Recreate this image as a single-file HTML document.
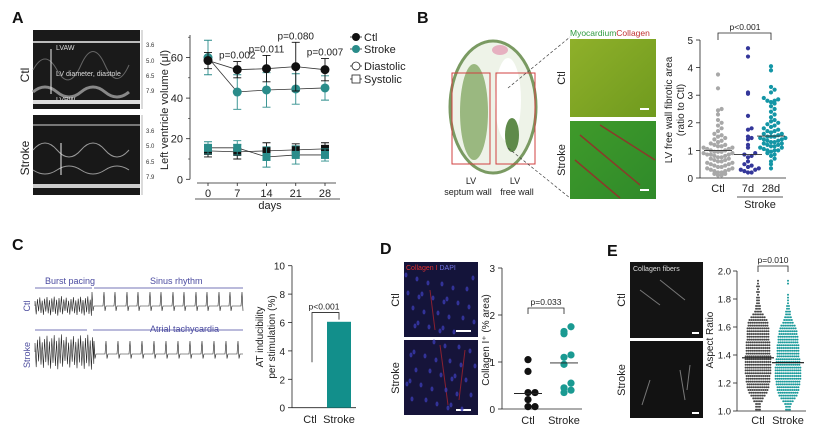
<!DOCTYPE html>
<html><head><meta charset="utf-8"><style>
html,body{margin:0;padding:0;background:#fff;width:830px;height:440px;overflow:hidden}
svg{display:block;font-family:"Liberation Sans",Arial,sans-serif}
</style></head><body>
<svg id="fig" width="830" height="440" viewBox="0 0 830 440" xmlns="http://www.w3.org/2000/svg">
<defs>
<linearGradient id="grnA" x1="0" y1="0" x2="1" y2="1"><stop offset="0" stop-color="#8fb02a"/><stop offset="1" stop-color="#6f9a1e"/></linearGradient>
<linearGradient id="grnB" x1="0" y1="0" x2="1" y2="1"><stop offset="0" stop-color="#3f9a2a"/><stop offset="1" stop-color="#2f8a2a"/></linearGradient>
</defs>
<g font-weight="bold" font-size="16" fill="#111">
<text x="12" y="23">A</text>
<text x="417" y="23">B</text>
<text x="12" y="250">C</text>
<text x="380" y="254">D</text>
<text x="607" y="256">E</text>
</g>

<g>
<rect x="33" y="30" width="107" height="79" fill="#1a1a1a"/>
<rect x="33" y="115" width="107" height="80" fill="#181818"/>
<path d="M33 42 H140" stroke="#bbb" stroke-width="2"/>
<path d="M33 92 q12 -10 24 0 t24 0 t24 0 t24 0" stroke="#888" stroke-width="3" fill="none"/>
<path d="M33 102 H140" stroke="#ddd" stroke-width="4"/>
<path d="M33 70 q12 -22 24 0 t24 -5 t24 0 t24 0" stroke="#666" stroke-width="1" fill="none"/>
<path d="M33 125 H140" stroke="#777" stroke-width="2"/>
<path d="M33 150 q12 -14 24 0 t24 0 t24 0 t24 0" stroke="#999" stroke-width="1" fill="none"/>
<path d="M33 170 q12 8 24 0 t24 0 t24 0 t24 0" stroke="#999" stroke-width="1" fill="none"/>
<path d="M33 186 H140" stroke="#ccc" stroke-width="4"/>
<path d="M51 49 V94 M61 143 V175" stroke="#eee" stroke-width="1"/>
<text x="56" y="50" font-size="7" fill="#ddd">LVAW</text>
<text x="56" y="76" font-size="7" fill="#ddd">LV diameter, diastole</text>
<text x="56" y="102" font-size="7" fill="#ddd">LVPW</text>
<g font-size="6" fill="#333">
<text x="146" y="47">3.6</text><text x="146" y="63">5.0</text><text x="146" y="78">6.5</text><text x="146" y="93">7.9</text>
<text x="146" y="133">3.6</text><text x="146" y="148">5.0</text><text x="146" y="164">6.5</text><text x="146" y="179">7.9</text>
</g>
<path d="M142 30 V109 M142 115 V195" stroke="#888" stroke-width="0.6"/>
<text transform="translate(29,75) rotate(-90)" font-size="12" text-anchor="middle" fill="#222">Ctl</text>
<text transform="translate(29,158) rotate(-90)" font-size="12" text-anchor="middle" fill="#222">Stroke</text>
</g>

<g id="chartA"></g>
<g id="chartB"></g>

<g>
<ellipse cx="493" cy="107" rx="43" ry="66" fill="#eef3e8" stroke="#7a9a62" stroke-width="3"/>
<ellipse cx="474" cy="112" rx="14" ry="48" fill="#9ab880"/>
<ellipse cx="508" cy="100" rx="13" ry="42" fill="#fff"/>
<ellipse cx="512" cy="135" rx="7" ry="17" fill="#5f8a4a"/>
<ellipse cx="500" cy="50" rx="8" ry="5" fill="#e6b0c0"/>
<rect x="452" y="73" width="38" height="91" fill="none" stroke="#d04040" stroke-width="1"/>
<rect x="496" y="73" width="39" height="91" fill="none" stroke="#d04040" stroke-width="1"/>
<path d="M508 88 L570 37 M508 148 L570 198" stroke="#444" stroke-dasharray="3,2" stroke-width="0.7"/>
<g font-size="9" fill="#222" text-anchor="middle">
<text x="471" y="184">LV</text><text x="468" y="195">septum wall</text>
<text x="515" y="184">LV</text><text x="517" y="195">free wall</text>
</g>
<text x="570" y="36" font-size="8.5"><tspan fill="#2f9a40">Myocardium</tspan><tspan fill="#c03030">Collagen</tspan></text>
<rect x="570" y="39" width="86" height="78" fill="url(#grnA)"/>
<rect x="570" y="121" width="86" height="78" fill="url(#grnB)"/>
<path d="M580 135 L640 185 M600 125 L655 160 M575 160 L620 198" stroke="#8a3a2a" stroke-width="1.5"/>
<path d="M640 109 h9 M640 190 h9" stroke="#fff" stroke-width="2"/>
<text transform="translate(565,78) rotate(-90)" font-size="11" text-anchor="middle" fill="#222">Ctl</text>
<text transform="translate(565,160) rotate(-90)" font-size="11" text-anchor="middle" fill="#222">Stroke</text>
</g>

<g id="traces">
<g font-size="9" fill="#4a4aa0">
<text x="45" y="284">Burst pacing</text>
<text x="150" y="284">Sinus rhythm</text>
<text x="150" y="332">Atrial tachycardia</text>
</g>
<path d="M35 288 H92 M94 288 H243 M35 330 H87 M93 330 H243" stroke="#4a4aa0" stroke-width="0.7"/>
<text transform="translate(30,306) rotate(-90)" font-size="9" text-anchor="middle" fill="#5050a0">Ctl</text>
<text transform="translate(30,355) rotate(-90)" font-size="9" text-anchor="middle" fill="#5050a0">Stroke</text>
</g>
<g id="chartC"></g>

<g id="dimg">
<rect x="404" y="262" width="74" height="75" fill="#14143a"/>
<rect x="404" y="340" width="74" height="75" fill="#16143a"/>
<path d="M430 290 l5 40 M440 345 l8 60 M465 350 l-6 50" stroke="#8a2030" stroke-width="1"/>
<text x="406" y="270" font-size="7"><tspan fill="#e03030">Collagen I</tspan><tspan fill="#7070e0"> DAPI</tspan></text>
<path d="M456 331 h15 M456 410 h15" stroke="#fff" stroke-width="2"/>
<text transform="translate(399,300) rotate(-90)" font-size="11" text-anchor="middle" fill="#222">Ctl</text>
<text transform="translate(399,378) rotate(-90)" font-size="11" text-anchor="middle" fill="#222">Stroke</text>
</g>
<g id="chartD"></g>

<g>
<rect x="630" y="262" width="73" height="76" fill="#141414"/>
<rect x="630" y="341" width="73" height="77" fill="#121212"/>
<text x="633" y="271" font-size="7" fill="#ddd">Collagen fibers</text>
<path d="M640 290 l20 15 M660 280 l25 20 M650 380 l-8 25 M680 370 l5 30 M690 365 l-3 25" stroke="#777" stroke-width="1"/>
<path d="M692 333 h7 M692 413 h7" stroke="#fff" stroke-width="2"/>
<text transform="translate(625,300) rotate(-90)" font-size="11" text-anchor="middle" fill="#222">Ctl</text>
<text transform="translate(625,380) rotate(-90)" font-size="11" text-anchor="middle" fill="#222">Stroke</text>
</g>
<g id="chartE"></g>
</svg>
<script>
const daysA = [0, 7, 14, 21, 28];
const ctlDia = [58.5, 54, 54.5, 55.5, 54];
const ctlDiaSD = [4, 4, 6.5, 12, 5.5];
const strDia = [60, 43, 44, 44.5, 45];
const strDiaSD = [8.5, 8.5, 8.5, 7.5, 6];
const ctlSys = [14, 13.5, 14, 14.5, 15];
const ctlSysSD = [3, 3.5, 4, 3, 3];
const strSys = [15.5, 15.5, 11, 12, 12];
const strSysSD = [3, 3.5, 5, 4.5, 3];
const pLabelsA = ["", "p=0.002", "p=0.011", "p=0.080", "p=0.007"];
const ticksA = [0, 20, 40, 60];

const groupsB = ["Ctl", "7d", "28d"];
const ctlB = [3.75,3.25,2.5,2.45,2.3,2.1,2.0,1.9,1.8,1.7,1.6,1.55,1.5,1.45,1.4,1.35,1.3,1.25,1.2,1.2,1.15,1.1,1.1,1.05,1.0,1.0,0.95,0.95,0.9,0.9,0.85,0.85,0.8,0.8,0.75,0.75,0.7,0.7,0.65,0.65,0.6,0.6,0.55,0.55,0.5,0.5,0.45,0.45,0.4,0.4,0.35,0.35,0.3,0.3,0.25,0.25,0.2,0.2,0.15,0.15,0.1,0.1,1.15,1.05,0.95,0.85];
const d7B = [4.7,4.4,3.1,3.05,2.25,1.8,1.75,1.5,1.45,1.4,1.2,1.1,0.9,0.85,0.8,0.75,0.6,0.5,0.45,0.4,0.3,0.3,0.25,0.2,0.2,0.35];
const d28B = [4.05,3.9,3.3,3.2,3.1,2.9,2.85,2.8,2.8,2.75,2.7,2.6,2.5,2.4,2.3,2.2,2.1,2.05,2.0,1.95,1.9,1.85,1.8,1.75,1.7,1.7,1.65,1.6,1.6,1.55,1.5,1.5,1.5,1.45,1.45,1.4,1.4,1.35,1.35,1.3,1.3,1.25,1.25,1.2,1.2,1.15,1.15,1.1,1.1,1.05,1.0,1.0,1.0,0.95,0.9,0.85,0.8,0.7,0.6,0.5,0.35];
const medB = [1.0, 0.85, 1.52];
const ticksB = [0,1,2,3,4,5];

const catsC = ["Ctl", "Stroke"];
const valsC = [0, 6.05];
const ticksC = [0,2,4,6,8,10];

const catsD = ["Ctl", "Stroke"];
const ctlD = [1.05, 0.8, 0.35, 0.35, 0.2, 0.05, 0.05];
const strD = [1.75, 1.65, 1.6, 1.15, 1.1, 0.95, 0.55, 0.45, 0.35, 0.4];
const medD = [0.33, 0.98];
const ticksD = [0,1,2,3];

const binsE0 = 1.00;
const binStepE = 0.02;
const ctlCountsE = [3,3,3,5,6,8,10,11,12,12,13,13,13,14,14,14,14,14,14,14,13,13,13,13,13,12,12,12,12,12,11,11,10,8,6,4,3,3,2,2,2,1,2,1,2,1,1,0];
const strCountsE = [3,3,4,6,8,10,11,12,12,13,13,14,14,14,14,14,13,13,13,12,12,12,12,12,11,11,11,10,10,9,8,6,5,4,3,3,2,2,1,1,1,1,0,0,0,1,1,0];
const medE = [1.38, 1.345];
const ticksE = [1.0,1.2,1.4,1.6,1.8,2.0];

const NS='http://www.w3.org/2000/svg';
function mk(parent, tag, attrs, text){const e=document.createElementNS(NS,tag);for(const k in attrs)e.setAttribute(k,attrs[k]);if(text!==undefined)e.textContent=text;parent.appendChild(e);return e;}

(function(){const g=document.getElementById('dimg');
for(let i=0;i<60;i++){const x=406+((i*37)%70),y=275+((i*53)%135);if(y>335&&y<342)continue;
mk(g,'ellipse',{cx:x,cy:y,rx:1.5,ry:2.5,fill:'#3a3ab0',opacity:0.8});}})();

(function(){
const g=document.getElementById('chartA');
const yA=v=>179.3-v*2.03, xA=d=>208+d*(117/28);
mk(g,'line',{x1:190,y1:35,x2:190,y2:yA(0),stroke:'#222','stroke-width':0.8});
for(const t of ticksA){mk(g,'line',{x1:186,y1:yA(t),x2:190,y2:yA(t),stroke:'#222','stroke-width':0.8});
const tl=mk(g,'text',{x:183,y:yA(t)+4,'font-size':11,'text-anchor':'end',fill:'#222'},t);

}
for(const t of [10,30,50,70])mk(g,'line',{x1:188,y1:yA(t),x2:190,y2:yA(t),stroke:'#222','stroke-width':0.6});
mk(g,'line',{x1:197,y1:183,x2:336,y2:183,stroke:'#222','stroke-width':0.8});
daysA.forEach(d=>{mk(g,'line',{x1:xA(d),y1:183,x2:xA(d),y2:186,stroke:'#222','stroke-width':0.8});
const t=mk(g,'text',{x:xA(d),y:197,'font-size':11,'text-anchor':'middle',fill:'#222'},d);

});
mk(g,'line',{x1:195,y1:199,x2:340,y2:199,stroke:'#222','stroke-width':0.8});
const xt=mk(g,'text',{x:270,y:209,'font-size':11,'text-anchor':'middle',fill:'#222'},'days');


const yt=mk(g,'text',{transform:'translate(168,110) rotate(-90)','font-size':11,'text-anchor':'middle',fill:'#222'},'Left ventricle volume (μl)');


function series(vals,sd,color,shape,name){
 const pts=vals.map((v,i)=>xA(daysA[i])+','+yA(v)).join(' ');
 mk(g,'polyline',{points:pts,fill:'none',stroke:'#333','stroke-width':0.8});
 vals.forEach((v,i)=>{const x=xA(daysA[i]);
  mk(g,'path',{d:`M${x} ${yA(v-sd[i])}V${yA(v+sd[i])}M${x-4} ${yA(v+sd[i])}h8M${x-4} ${yA(v-sd[i])}h8`,stroke:color,'stroke-width':0.9});
  let m;
  if(shape==='c')m=mk(g,'circle',{cx:x,cy:yA(v),r:4.5,fill:color});
  else m=mk(g,'rect',{x:x-4,y:yA(v)-4,width:8,height:8,fill:color});
  
  
 });
}
series(ctlSys,ctlSysSD,'#111','s','ctl-systolic-point');
series(strSys,strSysSD,'#2a8c8a','s','stroke-systolic-point');
series(strDia,strDiaSD,'#2a8c8a','c','stroke-diastolic-point');
series(ctlDia,ctlDiaSD,'#111','c','ctl-diastolic-point');
pLabelsA.forEach((p,i)=>{if(!p)return;const v=ctlDia[i]+ctlDiaSD[i];
 const t=mk(g,'text',{x:xA(daysA[i]),y:yA(v)-3,'font-size':10,'text-anchor':'middle',fill:'#222'},p);
 
 });
const L=[['Ctl',37,'#111','c'],['Stroke',49,'#2a8c8a','c'],['Diastolic',66,'#fff','c'],['Systolic',79,'#fff','s']];
L.forEach(([n,y,c,s])=>{mk(g,'line',{x1:350,y1:y,x2:362,y2:y,stroke:'#222','stroke-width':0.8});
 if(s==='c')mk(g,'circle',{cx:356,cy:y,r:4,fill:c,stroke:'#222','stroke-width':c==='#fff'?0.8:0});
 else mk(g,'rect',{x:352,y:y-4,width:8,height:8,fill:'#fff',stroke:'#222','stroke-width':0.8});
 const t=mk(g,'text',{x:364,y:y+4,'font-size':11,fill:'#222'},n);
 
 });
})();

function swarm(vals,cx,yf,dx,binPx){
 const sorted=[...vals].sort((a,b)=>a-b);const rows={};const out=[];
 for(const v of sorted){const y=yf(v);const k=Math.round(y/binPx);rows[k]=(rows[k]||0)+1;const n=rows[k]-1;
  const off=n===0?0:(n%2?1:-1)*Math.ceil(n/2)*dx;out.push([cx+off,y]);}
 return out;}

(function(){
const g=document.getElementById('chartB');
const yB=v=>178-v*27.6; const xs=[718,748,771];
mk(g,'line',{x1:700,y1:40,x2:700,y2:178,stroke:'#222','stroke-width':0.8});
mk(g,'line',{x1:700,y1:178,x2:786,y2:178,stroke:'#222','stroke-width':0.8});
ticksB.forEach(t=>{mk(g,'line',{x1:696,y1:yB(t),x2:700,y2:yB(t),stroke:'#222','stroke-width':0.8});
 const l=mk(g,'text',{x:693,y:yB(t)+4,'font-size':10,'text-anchor':'end',fill:'#222'},t);
 
 });
groupsB.forEach((n,i)=>{const l=mk(g,'text',{x:xs[i],y:192,'font-size':11,'text-anchor':'middle',fill:'#222'},n);
 
 });
mk(g,'line',{x1:737,y1:197,x2:783,y2:197,stroke:'#222','stroke-width':0.8});
mk(g,'text',{x:760,y:208,'font-size':11,'text-anchor':'middle',fill:'#222'},'Stroke');
mk(g,'text',{transform:'translate(672,110) rotate(-90)','font-size':10,'text-anchor':'middle',fill:'#222'},'LV free wall fibrotic area');
mk(g,'text',{transform:'translate(684,110) rotate(-90)','font-size':10,'text-anchor':'middle',fill:'#222'},'(ratio to Ctl)');
mk(g,'path',{d:`M${xs[0]} 40V33H${xs[2]}V40`,fill:'none',stroke:'#222','stroke-width':0.8});
mk(g,'text',{x:745,y:30,'font-size':8.5,'text-anchor':'middle',fill:'#222'},'p<0.001');
const sets=[[ctlB,'#a8a8a8'],[d7B,'#34379a'],[d28B,'#1496a6']];
sets.forEach(([vals,c],i)=>{swarm(vals,xs[i],yB,3.6,5).forEach(([x,y])=>{
 const d=mk(g,'circle',{cx:x,cy:y,r:2.1,fill:c});
 
 });
 mk(g,'line',{x1:xs[i]-14,y1:yB(medB[i]),x2:xs[i]+14,y2:yB(medB[i]),stroke:'#333','stroke-width':0.9});});
})();

(function(){
const g=document.getElementById('traces');
function trace(y0,ampB,x0,x1,x2,spikeEvery,spikeAmp,baseDrift){
 let d=`M${x0} ${y0}`;
 for(let x=x0;x<=x1;x+=1.2){const s=((x*7)%5)/5;d+=` L${x} ${y0+(Math.round(x/1.2)%2?-1:1)*ampB*(0.5+s*0.5)}`;}
 for(let x=x1;x<=x2;x+=1){const k=(x-x1)%spikeEvery;let y=y0+baseDrift;
  if(k<1)y-=spikeAmp;else if(k<2)y+=spikeAmp*0.35;d+=` L${x} ${y}`;}
 mk(g,'path',{d,fill:'none',stroke:'#222','stroke-width':0.6});}
trace(306,10,35,92,243,11.5,14,0);
trace(352,18,35,94,243,12,13,2);
})();

(function(){
const g=document.getElementById('chartC');
const yC=v=>407.7-v*14.2; const xs=[310,339];
mk(g,'line',{x1:292,y1:yC(10),x2:292,y2:yC(0),stroke:'#222','stroke-width':0.8});
mk(g,'line',{x1:292,y1:yC(0),x2:356,y2:yC(0),stroke:'#222','stroke-width':0.8});
ticksC.forEach(t=>{mk(g,'line',{x1:288,y1:yC(t),x2:292,y2:yC(t),stroke:'#222','stroke-width':0.8});
 const l=mk(g,'text',{x:285,y:yC(t)+4,'font-size':10,'text-anchor':'end',fill:'#222'},t);
 
 });
catsC.forEach((n,i)=>{const l=mk(g,'text',{x:xs[i],y:423,'font-size':11,'text-anchor':'middle',fill:'#222'},n);
 
 
 const b=mk(g,'rect',{x:xs[i]-12,y:yC(valsC[i]),width:24,height:yC(0)-yC(valsC[i]),fill:'#128f8b'});
 
 });
mk(g,'path',{d:`M${xs[0]+2} ${yC(3.2)}V${yC(6.7)}H${xs[1]}V${yC(6.2)}`,fill:'none',stroke:'#222','stroke-width':0.8});
mk(g,'text',{x:324,y:yC(6.7)-3,'font-size':8.5,'text-anchor':'middle',fill:'#222'},'p<0.001');
mk(g,'text',{transform:'translate(263,337) rotate(-90)','font-size':10,'text-anchor':'middle',fill:'#222'},'AT inducibility');
mk(g,'text',{transform:'translate(275,337) rotate(-90)','font-size':10,'text-anchor':'middle',fill:'#222'},'per stimulation (%)');
})();

(function(){
const g=document.getElementById('chartD');
const yD=v=>409-v*47; const xs=[528,564];
mk(g,'line',{x1:502,y1:yD(3),x2:502,y2:yD(0),stroke:'#222','stroke-width':0.8});
mk(g,'line',{x1:502,y1:yD(0),x2:582,y2:yD(0),stroke:'#222','stroke-width':0.8});
ticksD.forEach(t=>{mk(g,'line',{x1:498,y1:yD(t),x2:502,y2:yD(t),stroke:'#222','stroke-width':0.8});
 const l=mk(g,'text',{x:495,y:yD(t)+4,'font-size':10,'text-anchor':'end',fill:'#222'},t);
 
 });
catsD.forEach((n,i)=>{const l=mk(g,'text',{x:xs[i],y:424,'font-size':11,'text-anchor':'middle',fill:'#222'},n);
 
 });
[[ctlD,'#111'],[strD,'#1a9a92']].forEach(([vals,c],i)=>{swarm(vals,xs[i],yD,7,7).forEach(([x,y])=>{
 const d=mk(g,'circle',{cx:x,cy:y,r:3.6,fill:c});
 
 });
 mk(g,'line',{x1:xs[i]-14,y1:yD(medD[i]),x2:xs[i]+14,y2:yD(medD[i]),stroke:'#222','stroke-width':0.9});});
mk(g,'path',{d:`M${xs[0]} 314V308H${xs[1]}V314`,fill:'none',stroke:'#222','stroke-width':0.8});
mk(g,'text',{x:546,y:305,'font-size':8.5,'text-anchor':'middle',fill:'#222'},'p=0.033');
mk(g,'text',{transform:'translate(489,340) rotate(-90)','font-size':10,'text-anchor':'middle',fill:'#222'},'Collagen I⁺ (% area)');
})();

(function(){
const g=document.getElementById('chartE');
const yE=v=>411-(v-1)*140; const xs=[758,788];
mk(g,'line',{x1:737,y1:yE(2.0),x2:737,y2:yE(1.0),stroke:'#222','stroke-width':0.8});
mk(g,'line',{x1:737,y1:yE(1.0),x2:806,y2:yE(1.0),stroke:'#222','stroke-width':0.8});
ticksE.forEach(t=>{mk(g,'line',{x1:733,y1:yE(t),x2:737,y2:yE(t),stroke:'#222','stroke-width':0.8});
 const l=mk(g,'text',{x:731,y:yE(t)+3.5,'font-size':9.5,'text-anchor':'end',fill:'#222'},t.toFixed(1));
 
 });
['Ctl','Stroke'].forEach((n,i)=>{const l=mk(g,'text',{x:xs[i],y:424,'font-size':11,'text-anchor':'middle',fill:'#222'},n);
 
 });
[[ctlCountsE,'#444'],[strCountsE,'#1a9a9a']].forEach(([cnt,c],i)=>{
 cnt.forEach((n,b)=>{const y=yE(binsE0+b*binStepE+0.01);
  for(let k=0;k<n;k++){const off=(k-(n-1)/2)*1.9;
   const d=mk(g,'circle',{cx:xs[i]+off,cy:y,r:1.0,fill:c});
   
   }});
 mk(g,'line',{x1:xs[i]-16,y1:yE(medE[i]),x2:xs[i]+16,y2:yE(medE[i]),stroke:'#111','stroke-width':1.2});});
mk(g,'path',{d:`M${xs[0]} 272V266H${xs[1]}V272`,fill:'none',stroke:'#222','stroke-width':0.8});
mk(g,'text',{x:773,y:263,'font-size':8.5,'text-anchor':'middle',fill:'#222'},'p=0.010');
mk(g,'text',{transform:'translate(713,340) rotate(-90)','font-size':10,'text-anchor':'middle',fill:'#222'},'Aspect Ratio');
})();
</script>
</body></html>
